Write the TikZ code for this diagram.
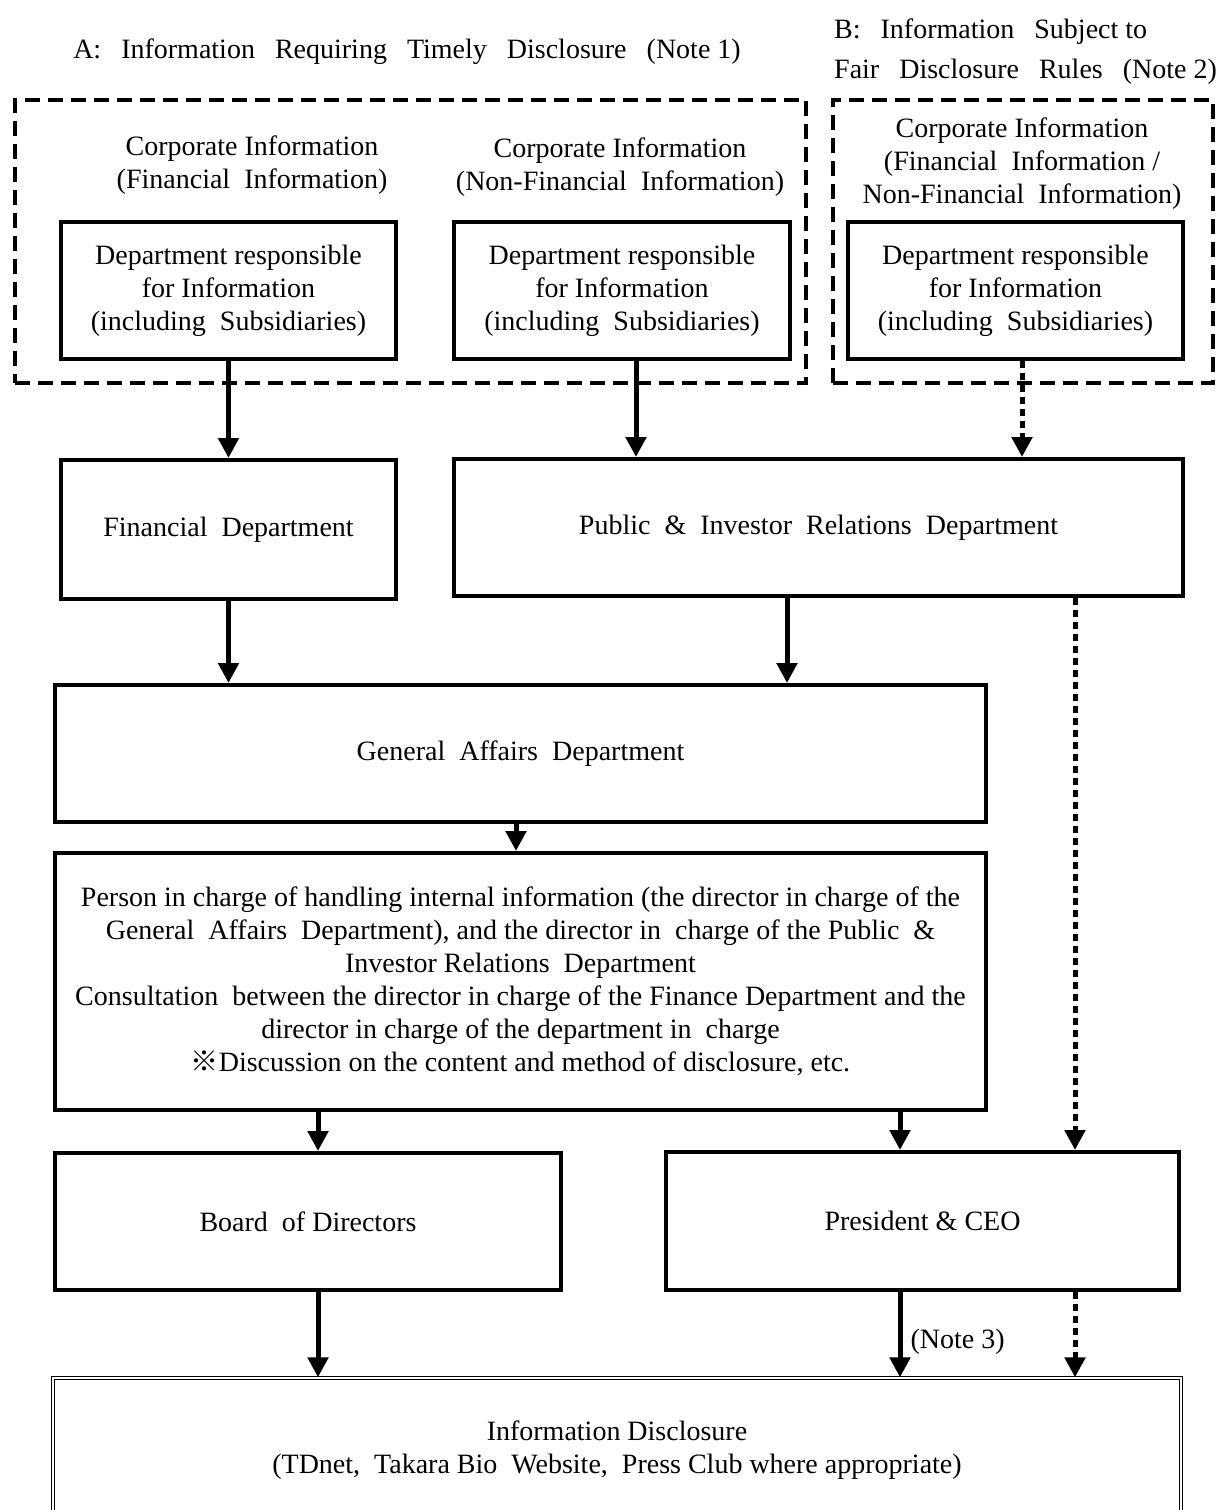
\documentclass[tikz,border=0pt]{standalone}
\usepackage{fontspec}
\setmainfont{Liberation Serif}
\newfontfamily\cjk{Noto Sans CJK JP}
\usetikzlibrary{arrows.meta}
\newcommand\mygap{\hspace{20pt}}
\begin{document}
\begin{tikzpicture}[x=1pt,y=-1pt,
  every node/.style={font=\fontsize{28}{33}\selectfont, inner sep=0pt},
  box/.style={draw, line width=4pt, align=center},
  dbox/.style={draw, line width=4pt, dash pattern=on 15pt off 8pt},
  lbl/.style={align=center},
  arr/.style={line width=5pt, -{Triangle[width=20pt,length=20pt]}},
  darr/.style={line width=5pt, dash pattern=on 7pt off 5pt, -{Triangle[width=20pt,length=20pt]}}
]
\clip (0,0) rectangle (1229,1510);
\fill[white] (0,0) rectangle (1229,1510);

% titles
\node (tA) at (407,52) {A:\mygap Information\mygap Requiring\mygap Timely\mygap Disclosure\mygap (Note 1)};
\node[anchor=west] (tB1) at (834,32) {B:\mygap Information\mygap Subject to};
\node[anchor=west] (tB2) at (834,72) {Fair\mygap Disclosure\mygap Rules\mygap (Note 2)};

% dashed groups
\node[dbox, minimum width=791pt, minimum height=283pt] (gA) at (410.5,241.5) {};
\node[dbox, minimum width=380pt, minimum height=283pt] (gB) at (1023,241.5) {};

% group labels
\node[lbl] (cA1) at (252,165) {Corporate Information\\(Financial\ \ Information)};
\node[lbl] (cA2) at (620,167) {Corporate Information\\(Non-Financial\ \ Information)};
\node[lbl] (cB) at (1022,163.5) {Corporate Information\\(Financial\ \ Information /\\Non-Financial\ \ Information)};

% department boxes
\node[box, minimum width=335pt, minimum height=137pt] (d1) at (228.5,290.5) {Department responsible\\for Information\\(including\ \ Subsidiaries)};
\node[box, minimum width=336pt, minimum height=137pt] (d2) at (622,290.5) {Department responsible\\for Information\\(including\ \ Subsidiaries)};
\node[box, minimum width=335pt, minimum height=137pt] (d3) at (1015.5,290.5) {Department responsible\\for Information\\(including\ \ Subsidiaries)};

% second row
\node[box, minimum width=335pt, minimum height=139pt] (fin) at (228.5,529.5) {Financial\ \ Department};
\node[box, minimum width=729pt, minimum height=137pt] (pir) at (818.5,527.5) {Public\ \ \&\ \ Investor\ \ Relations\ \ Department};

% general affairs
\node[box, minimum width=931pt, minimum height=137pt] (ga) at (520.5,753.5) {General\ \ Affairs\ \ Department};

% person in charge
\node[box, minimum width=931pt, minimum height=257pt] (pic) at (520.5,981.5) {Person in charge of handling internal information (the director in charge of the\\General\ \ Affairs\ \ Department), and the director in\ \ charge of the Public\ \ \&\\Investor Relations\ \ Department\\Consultation\ \ between the director in charge of the Finance Department and the\\director in charge of the department in\ \ charge\\{\cjk ※}Discussion on the content and method of disclosure, etc.};

% board & president
\node[box, minimum width=506pt, minimum height=137pt] (bod) at (308,1221.5) {Board\ \ of Directors};
\node[box, minimum width=513pt, minimum height=138pt] (pres) at (922.5,1221) {President \& CEO};

% information disclosure
\node[draw, double, double distance=2pt, line width=1.3pt, minimum width=1128pt, minimum height=144pt, align=center] (info) at (617,1450) {Information Disclosure\\(TDnet,\ \ Takara Bio\ \ Website,\ \ Press Club where appropriate)};

% connectors
\draw[arr] (d1.south) -- (fin.north);
\draw[arr] (d2.south -| 636,0) -- (pir.north -| 636,0);
\draw[darr] (d3.south -| 1022,0) -- (pir.north -| 1022,0);
\draw[arr] (fin.south) -- (ga.north -| fin.south);
\draw[arr] (pir.south -| 787,0) -- (ga.north -| 787,0);
\draw[darr] (pir.south -| 1075,0) -- (pres.north -| 1075,0);
\draw[arr] (ga.south -| 516,0) -- (pic.north -| 516,0);
\draw[arr] (pic.south -| 318,0) -- (bod.north -| 318,0);
\draw[arr] (pic.south -| 900,0) -- (pres.north -| 900,0);
\draw[arr] (bod.south -| 318,0) -- (info.north -| 318,0);
\draw[arr] (pres.south -| 900,0) -- node[right=8pt, pos=0.58] (n3) {(Note 3)} (info.north -| 900,0);
\draw[darr] (pres.south -| 1075,0) -- (info.north -| 1075,0);
\end{tikzpicture}
\end{document}
